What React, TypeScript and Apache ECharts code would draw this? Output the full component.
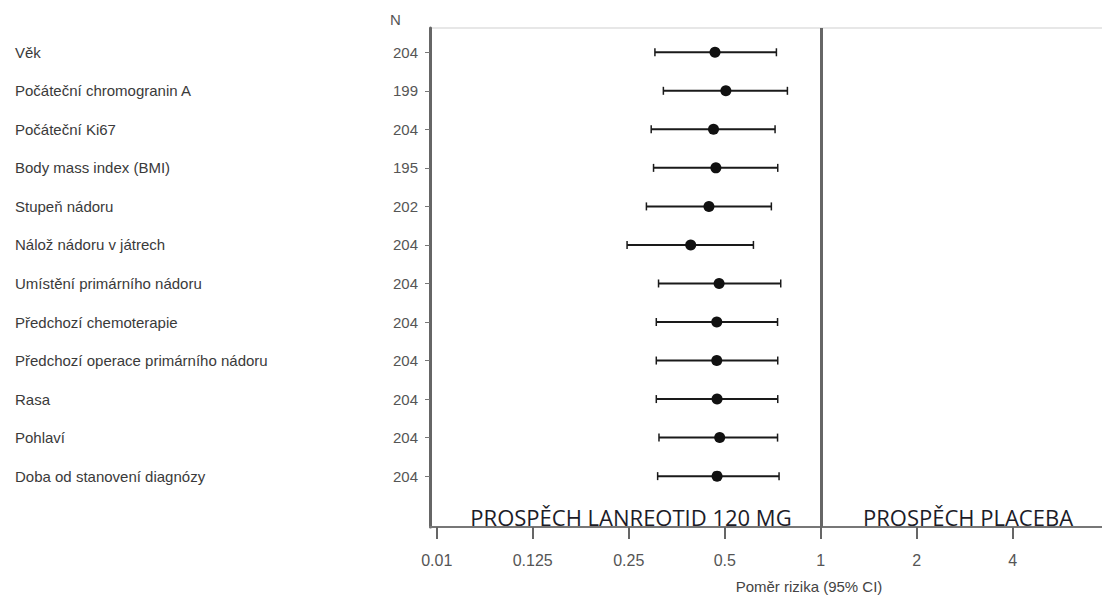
import React, { useEffect, useRef } from "react";
import * as echarts from "echarts";

const categories = [
  "Věk",
  "Počáteční chromogranin A",
  "Počáteční Ki67",
  "Body mass index (BMI)",
  "Stupeň nádoru",
  "Nálož nádoru v játrech",
  "Umístění primárního nádoru",
  "Předchozí chemoterapie",
  "Předchozí operace primárního nádoru",
  "Rasa",
  "Pohlaví",
  "Doba od stanovení diagnózy",
];
const nValues = [204, 199, 204, 195, 202, 204, 204, 204, 204, 204, 204, 204];
const hrEstimate = [0.466, 0.504, 0.461, 0.469, 0.446, 0.391, 0.48, 0.472, 0.472, 0.473, 0.482, 0.473];
const ciLower = [0.302, 0.321, 0.294, 0.299, 0.284, 0.247, 0.31, 0.305, 0.305, 0.305, 0.311, 0.308];
const ciUpper = [0.726, 0.786, 0.719, 0.733, 0.7, 0.615, 0.749, 0.732, 0.733, 0.733, 0.732, 0.74];
const tickValues = [0.0625, 0.125, 0.25, 0.5, 1, 2, 4, 8];
const tickLabels = ["0.01", "0.125", "0.25", "0.5", "1", "2", "4", "8"];
const axisTitle = "Poměr rizika (95% CI)";
const leftNote = "PROSPĚCH LANREOTID 120 MG";
const rightNote = "PROSPĚCH PLACEBA";

const toPos = (v: number) => Math.log2(v);
const rows = categories.map((_, i) => i + 1);

export default function App() {
  const ref = useRef<HTMLDivElement>(null);
  useEffect(() => {
    if (!ref.current) return;
    const chart = echarts.init(ref.current, null, { renderer: "svg" });
    const tickPos = tickValues.map(toPos);
    const labelFor = (v: number) => {
      const i = tickPos.findIndex((p) => Math.abs(p - v) < 1e-6);
      return i >= 0 ? tickLabels[i] : "";
    };
    const rowIndex = (v: number) => Math.round(v) - 1;
    const textFont = "'Liberation Sans', Arial, sans-serif";
    const noteFont = "'Open Sans', Lato, sans-serif";
    chart.setOption({
      animation: false,
      backgroundColor: "#ffffff",
      grid: {
        left: 430,
        top: 28,
        width: 698,
        height: 502,
        show: true,
        borderColor: "#cfcfcf",
        borderWidth: 1,
        backgroundColor: "transparent",
      },
      xAxis: {
        type: "value",
        min: -4.07,
        max: 3.2,
        name: axisTitle,
        nameLocation: "middle",
        nameGap: 52,
        nameTextStyle: {
          fontFamily: textFont,
          fontSize: 15,
          color: "#444",
          padding: [0, 0, 0, 60],
        },
        axisLine: { show: true, onZero: false, lineStyle: { color: "#777", width: 2 } },
        axisTick: {
          show: true,
          customValues: tickPos,
          length: 12,
          lineStyle: { color: "#666", width: 2 },
        },
        axisLabel: {
          customValues: tickPos,
          formatter: (v: number) => labelFor(v),
          fontFamily: textFont,
          fontSize: 16,
          color: "#555",
          margin: 25,
        },
        splitLine: { show: false },
      },
      yAxis: [
        {
          type: "value",
          inverse: true,
          min: 0.37,
          max: 13.32,
          axisLine: { show: true, onZero: false, lineStyle: { color: "#666", width: 3 } },
          axisTick: {
            show: true,
            customValues: rows,
            length: 5,
            lineStyle: { color: "#777", width: 1 },
          },
          axisLabel: {
            customValues: rows,
            formatter: (v: number) => String(nValues[rowIndex(v)] ?? ""),
            fontFamily: textFont,
            fontSize: 15,
            color: "#555",
            margin: 12,
          },
          splitLine: { show: false },
        },
        {
          type: "value",
          inverse: true,
          position: "left",
          min: 0.37,
          max: 13.32,
          axisLine: { show: false, onZero: false },
          axisTick: { show: false },
          axisLabel: {
            customValues: rows,
            formatter: (v: number) => categories[rowIndex(v)] ?? "",
            fontFamily: textFont,
            fontSize: 15,
            color: "#3a3a3a",
            align: "left",
            margin: 415,
          },
          splitLine: { show: false },
        },
      ],
      graphic: [
        {
          type: "text",
          left: 390,
          top: 12,
          style: { text: "N", fontFamily: textFont, fontSize: 15, fill: "#555" },
        },
        {
          type: "text",
          x: 631,
          y: 517,
          z: 100,
          style: {
            text: leftNote,
            fontFamily: noteFont,
            fontSize: 22,
            fill: "#1c1c28",
            align: "center",
            verticalAlign: "middle",
          },
        },
        {
          type: "text",
          x: 968,
          y: 517,
          z: 100,
          style: {
            text: rightNote,
            fontFamily: noteFont,
            fontSize: 22,
            fill: "#1c1c28",
            align: "center",
            verticalAlign: "middle",
          },
        },
      ],
      series: [
        {
          type: "custom",
          xAxisIndex: 0,
          yAxisIndex: 0,
          encode: { x: [1, 2], y: 0 },
          data: rows.map((r, i) => [r, toPos(ciLower[i]), toPos(ciUpper[i])]),
          renderItem: (params: any, api: any) => {
            const y = api.value(0);
            const p1 = api.coord([api.value(1), y]);
            const p2 = api.coord([api.value(2), y]);
            const stroke = "#1a1a1a";
            return {
              type: "group",
              children: [
                { type: "line", shape: { x1: p1[0], y1: p1[1], x2: p2[0], y2: p2[1] }, style: { stroke, lineWidth: 2 } },
                { type: "line", shape: { x1: p1[0], y1: p1[1] - 4, x2: p1[0], y2: p1[1] + 4 }, style: { stroke, lineWidth: 1.5 } },
                { type: "line", shape: { x1: p2[0], y1: p2[1] - 4, x2: p2[0], y2: p2[1] + 4 }, style: { stroke, lineWidth: 1.5 } },
              ],
            };
          },
          silent: true,
        },
        {
          type: "scatter",
          xAxisIndex: 0,
          yAxisIndex: 0,
          symbol: "circle",
          symbolSize: 11,
          itemStyle: { color: "#111", opacity: 1 },
          data: rows.map((r, i) => [toPos(hrEstimate[i]), r]),
          markLine: {
            silent: true,
            symbol: "none",
            label: { show: false },
            lineStyle: { color: "#666", width: 3, type: "solid" },
            data: [{ xAxis: 0 }],
          },
          silent: true,
        },
      ],
    });
    return () => chart.dispose();
  }, []);
  return (
    <div
      ref={ref}
      style={{ position: "fixed", left: 0, top: 0, width: 1130, height: 599 }}
    />
  );
}
